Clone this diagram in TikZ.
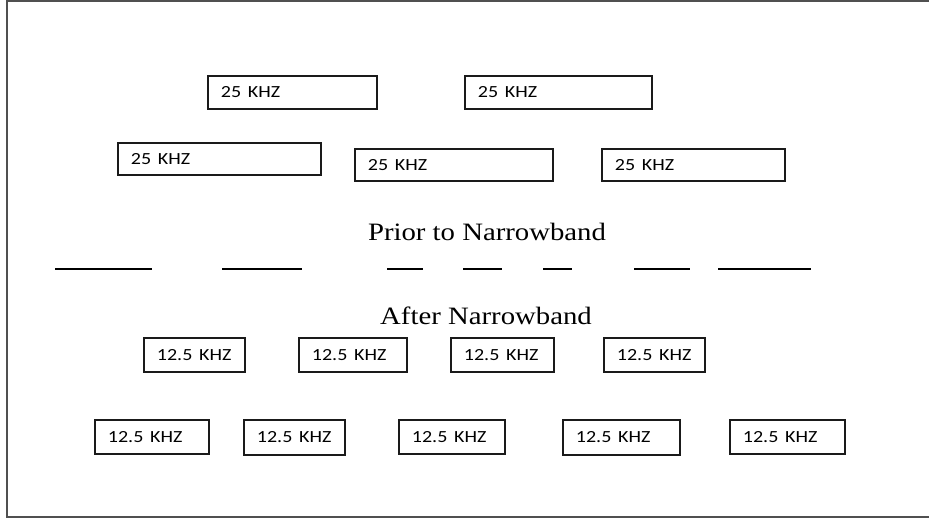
\documentclass[tikz,border=0pt]{standalone}
\usepackage{fontspec}
\setmainfont{Liberation Serif}
\setsansfont{Carlito}
\usetikzlibrary{positioning}
\definecolor{framegray}{HTML}{505050}
\definecolor{boxedge}{HTML}{1a1a1a}
\newcommand{\widen}[2]{\scalebox{#1}[1]{#2}}
\tikzset{
  band/.style={draw=boxedge, line width=1.8pt, inner xsep=13pt, inner ysep=0pt,
    align=left, anchor=north west, font=\sffamily\fontsize{17}{17}\selectfont},
  heading/.style={anchor=base, inner sep=0pt, font=\fontsize{25}{25}\selectfont},
  channel/.style={line width=1.4pt},
}

\begin{document}
\begin{tikzpicture}[x=1pt,y=-1pt]
\useasboundingbox (0,0) rectangle (929,519);
% outer frame (open on the right)
\draw[framegray,line width=2.2pt] (929,1) -- (7,1) -- (7,517) -- (929,517);
% wide channels
\foreach \n/\x/\y/\w/\h in {a/207/75/169/33,b/464/75/187/33,c/117/142/203/32,d/354/148/198/32,e/601/148/183/32} {
  \pgfmathsetmacro\tw{\w-26}
  \node[band, text width=\tw pt, minimum height=\h pt] (w\n) at (\x,\y) {\widen{1.18}{25 KHZ}};
}
\node[heading] (prior) at (487,240) {\widen{1.15}{Prior to Narrowband}};
% spectrum lines
\foreach \xa/\xb in {55/152,222/302,387/423,463/502,543/572,634/690,718/811}
  \draw[channel] (\xa,269) -- (\xb,269);
\node[heading] (after) at (486,324) {\widen{1.15}{After Narrowband}};
% narrow channels
\foreach \n/\x/\y/\w/\h in {f/143/337/101/34,g/298/337/108/34,h/450/337/103/34,i/603/337/101/34,
    j/94/419/114/34,k/243/419/101/35,l/398/419/106/34,m/562/419/117/35,n/729/419/115/34} {
  \pgfmathsetmacro\tw{\w-26}
  \node[band, text width=\tw pt, minimum height=\h pt] (n\n) at (\x,\y) {\widen{1.18}{12.5 KHZ}};
}
\end{tikzpicture}
\end{document}
